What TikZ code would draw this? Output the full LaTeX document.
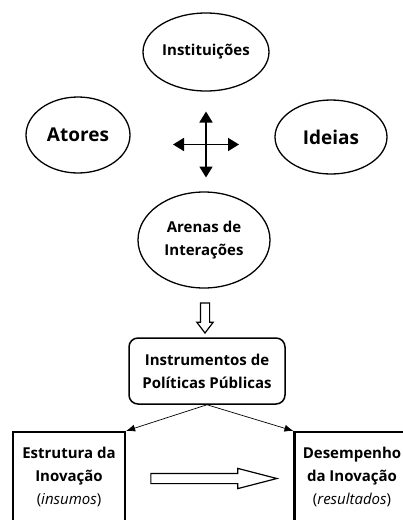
\documentclass[tikz,border=0pt]{standalone}
\usepackage{fontspec}
\setmainfont{Open Sans}
\usepackage{tikz}
\usetikzlibrary{shapes.geometric,shapes.arrows,arrows.meta}

\begin{document}
\begin{tikzpicture}[x=1pt,y=1pt]
        \clip (0,0) rectangle (403,-520);
        \tikzstyle{every node}=[font=\fontsize{15}{23}\selectfont\bfseries, align=center]
        \tikzstyle{oval}=[ellipse, draw, line width=1.3pt, inner sep=0pt]
        \tikzstyle{bigbox}=[rectangle, draw, line width=2.2pt, minimum height=90pt]
        \tikzstyle{hollow}=[single arrow, draw, line width=1.2pt, inner sep=4pt]
        \node[oval, minimum width=126pt, minimum height=78pt] (inst) at (206,-52) {Instituições};
        \node[oval, minimum width=104pt, minimum height=76pt, font=\fontsize{19}{23}\selectfont\bfseries] (atores) at (78,-135) {Atores};
        \node[oval, minimum width=112pt, minimum height=74pt, font=\fontsize{19}{23}\selectfont\bfseries] (ideias) at (331,-137) {Ideias};
        \node[oval, minimum width=132pt, minimum height=96pt] (arenas) at (204,-240) {Arenas de\\Interações};
        \node[draw, rounded corners=9pt, line width=1.5pt, minimum width=156pt, minimum height=66pt] (instr) at (207,-371) {Instrumentos de\\Políticas Públicas};
        \node[bigbox, minimum width=112pt] (estr) at (69,-477) {Estrutura da\\Inovação\\{\mdseries(\textit{insumos})}};
        \node[bigbox, minimum width=115pt] (desemp) at (352,-477) {Desempenho\\da Inovação\\{\mdseries(\textit{resultados})}};
        \node[hollow, rotate=-90, minimum height=30pt, single arrow head extend=3.5pt, single arrow tip angle=74] (down) at (205,-315) {};
        \node[hollow, minimum height=126pt, inner sep=4.5pt, single arrow head extend=5pt, single arrow tip angle=29] (right) at (204,-478.5) {};
        \coordinate (cl) at (173,-144.5);
        \coordinate (cr) at (239,-144.5);
        \coordinate (ct) at (206,-111.5);
        \coordinate (cb) at (206,-177.5);
        \tikzstyle{every path}=[line width=1.8pt]
        \draw[{Triangle[width=13pt,length=11pt]}-{Triangle[width=13pt,length=11pt]}] (cl) -- (cr);
        \draw[{Triangle[width=13pt,length=11pt]}-{Triangle[width=13pt,length=11pt]}] (ct) -- (cb);
        \draw[line width=0.7pt, -{Latex[length=9pt,width=7pt]}] (instr.south) -- (estr.north east);
        \draw[line width=0.7pt, -{Latex[length=9pt,width=7pt]}] (instr.south) -- (desemp.north west);
    \end{tikzpicture}
\end{document}
